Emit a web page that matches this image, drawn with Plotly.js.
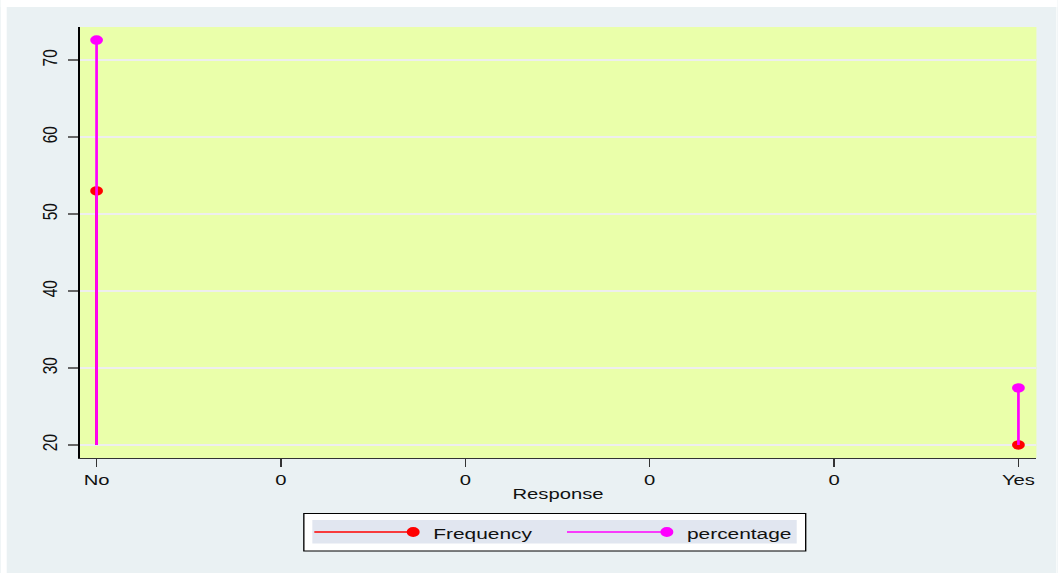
<!DOCTYPE html>
<html>
<head>
<meta charset="utf-8">
<script src="https://cdn.plot.ly/plotly-3.0.1.min.js"></script>
<style>
html,body{margin:0;padding:0;background:#fff;overflow:hidden;}
#wrap{width:1058px;height:573px;overflow:hidden;}
#chart{width:784px;height:573px;transform:scaleX(1.34949);transform-origin:0 0;}
</style>
</head>
<body>
<div id="wrap"><div id="chart"></div></div>
<script>
// ---- data ----
const categories = ['No', 'Yes'];
const categoryPos = [0, 1];
const frequency = [53, 20];
const percentage = [72.6, 27.4];
const spikeBase = 20;
const seriesNames = ['Frequency', 'percentage'];
const xTickVals = [0, 0.2, 0.4, 0.6, 0.8, 1];
const xTickText = ['No', '0', '0', '0', '0', 'Yes'];
const yTickVals = [20, 30, 40, 50, 60, 70];

// ---- styling ----
// the reference graph is stretched horizontally; plotly draws at a narrower width and CSS widens it
const S = 1058 / 784;
const FONT = 'Liberation Sans, Arial, sans-serif';
const colors = ['#ff0000', '#ff00ff'];
const W = 1058, H = 573;                 // image pixels
const plotL = 79, plotR = 1037, plotT = 27, plotB = 458;
const M = {l: plotL / S, r: (W - plotR) / S, t: plotT, b: H - plotB};
const px = v => (v - plotL) / (plotR - plotL);
const py = v => (plotB - v) / (plotB - plotT);

function spikes(values) {
  const xs = [], ys = [];
  values.forEach((v, i) => { xs.push(categoryPos[i], categoryPos[i], null); ys.push(spikeBase, v, null); });
  return {xs, ys};
}

const traces = [];
[frequency, percentage].forEach((vals, k) => {
  const s = spikes(vals);
  traces.push({x: s.xs, y: s.ys, mode: 'lines', type: 'scatter', line: {color: colors[k], width: 2},
    hoverinfo: 'skip', showlegend: false, cliponaxis: false});
  traces.push({x: categoryPos, y: vals, text: categories, name: seriesNames[k], mode: 'markers', type: 'scatter',
    marker: {color: colors[k], size: 9.5}, showlegend: false, cliponaxis: false});
});

// frame + legend drawn in the margins
const shapes = [
  {type: 'rect', xref: 'paper', yref: 'paper', x0: px(0), x1: px(6), y0: py(0), y1: py(H), fillcolor: '#ffffff', line: {width: 0}},
  {type: 'rect', xref: 'paper', yref: 'paper', x0: px(0), x1: px(W), y0: py(0), y1: py(7), fillcolor: '#ffffff', line: {width: 0}},
  {type: 'rect', xref: 'paper', yref: 'paper', x0: px(1057), x1: px(W), y0: py(0), y1: py(H), fillcolor: '#ffffff', line: {width: 0}},
  {type: 'rect', xref: 'paper', yref: 'paper', x0: px(303.5), x1: px(806), y0: py(513.5), y1: py(551), fillcolor: '#ffffff', line: {color: '#000', width: 1}},
  {type: 'rect', xref: 'paper', yref: 'paper', x0: px(312), x1: px(797), y0: py(520), y1: py(543.5), fillcolor: '#e1e6f0', line: {width: 0}}
];
const annotations = [];
const legendItems = [
  {lx0: 314, lx1: 413, tx: 430},
  {lx0: 567, lx1: 667, tx: 684}
];
const legendY = 532;
legendItems.forEach((it, k) => {
  shapes.push({type: 'line', xref: 'paper', yref: 'paper', x0: px(it.lx0), x1: px(it.lx1), y0: py(legendY), y1: py(legendY),
    line: {color: colors[k], width: 1.6}});
  shapes.push({type: 'circle', xref: 'paper', yref: 'paper', x0: px(it.lx1 - 6.5), x1: px(it.lx1 + 6.5), y0: py(legendY - 5), y1: py(legendY + 5),
    fillcolor: colors[k], line: {width: 0}});
  annotations.push({xref: 'paper', yref: 'paper', x: px(it.tx), y: py(legendY + 1), xanchor: 'left', yanchor: 'middle',
    text: seriesNames[k], showarrow: false, font: {family: FONT, size: 15.5, color: '#111'}});
});

const layout = {
  width: 784, height: H,
  margin: M,
  paper_bgcolor: '#eaf1f3',
  plot_bgcolor: '#eaffaa',
  showlegend: false,
  font: {family: FONT, size: 15, color: '#111'},
  xaxis: {
    range: [-0.0184, 1.0195],
    tickmode: 'array', tickvals: xTickVals, ticktext: xTickText,
    ticks: 'outside', ticklen: 8, tickwidth: 1, tickcolor: '#333',
    showgrid: false, zeroline: false,
    showline: true, linecolor: '#333', linewidth: 1,
    tickfont: {family: FONT, size: 15, color: '#111'},
    title: {text: 'Response', font: {family: FONT, size: 15, color: '#111'}, standoff: 1},
    automargin: false
  },
  yaxis: {
    range: [18.3, 74.3],
    tickmode: 'array', tickvals: yTickVals,
    ticks: 'outside', ticklen: 7.5, tickwidth: 1.5, tickcolor: '#666',
    tickangle: -90, ticklabelstandoff: 2,
    showgrid: true, gridcolor: '#eeeeee', gridwidth: 1.5,
    zeroline: false,
    showline: true, linecolor: '#000', linewidth: 1,
    tickfont: {family: FONT, size: 15.5, color: '#111'},
    automargin: false
  },
  shapes: shapes,
  annotations: annotations
};

Plotly.newPlot('chart', traces, layout, {displayModeBar: false, staticPlot: true});
</script>
</body>
</html>
